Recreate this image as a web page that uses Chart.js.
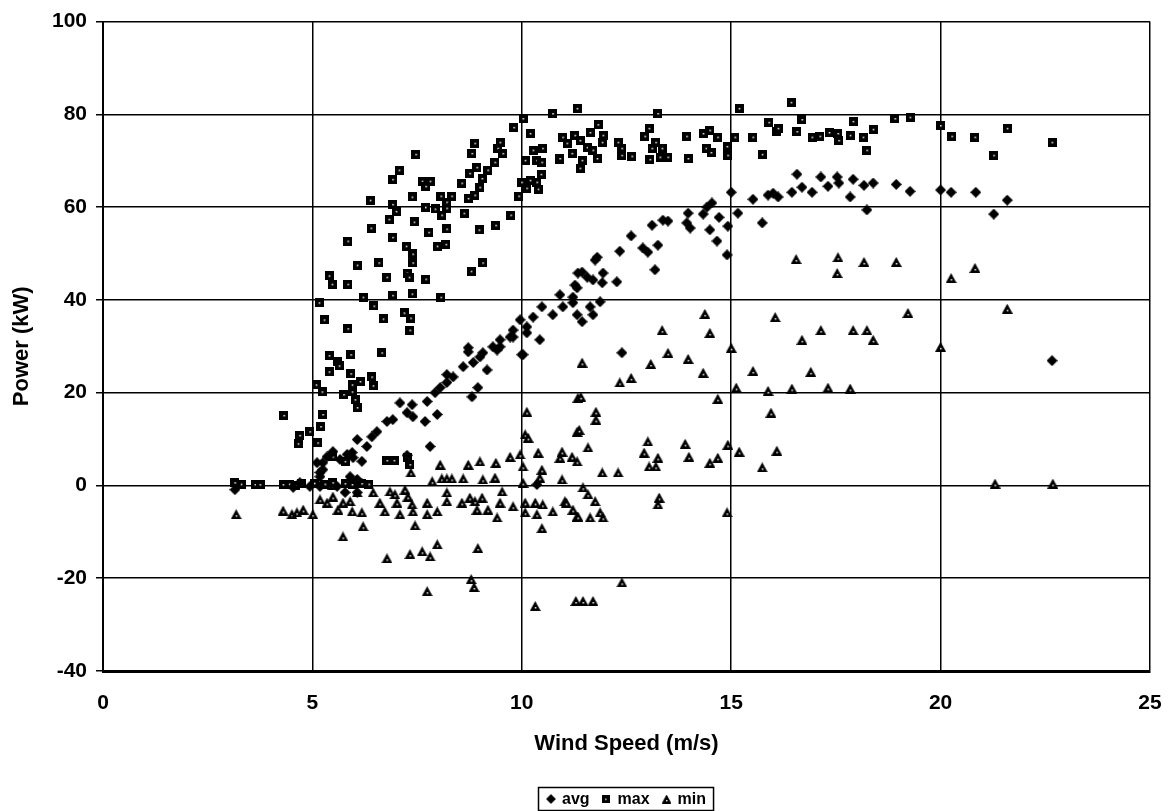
<!DOCTYPE html>
<html>
<head>
<meta charset="utf-8">
<script src="https://cdn.jsdelivr.net/npm/chart.js@4.4.0/dist/chart.umd.min.js"></script>
<style>
  html, body { margin: 0; padding: 0; background: #fff; }
  #wrap { width: 1168px; height: 811px; position: relative; }
</style>
</head>
<body>
<div id="wrap"><canvas id="c" width="1168" height="811"></canvas></div>
<script>
// Wind turbine power curve: 10-minute avg / max / min power vs wind speed
const seriesNames = ['avg', 'max', 'min'];
const xTicks = [0, 5, 10, 15, 20, 25];
const yTicks = [-40, -20, 0, 20, 40, 60, 80, 100];

const avgData = [
  [3.15,-0.9],[4.54,-0.4],[4.7,0.6],[4.94,-0.2],[5.18,-0.2],[5.59,-0.2],[5.78,-1.5],[6.07,-1.5],[5.9,1.9],[6.07,1.3],
  [5.11,4.9],[5.18,1.9],[5.25,3.4],[5.18,2.8],[5.25,4.9],[5.35,6.2],[5.49,7.3],[5.66,5.6],[5.83,6.7],[5.95,7.1],
  [5.97,6.0],[6.18,5.2],[6.07,9.9],[6.3,8.4],[6.42,10.5],[6.54,11.6],[6.78,13.8],[6.92,14.2],[7.09,17.8],[7.38,17.4],
  [7.26,15.7],[7.4,14.8],[7.69,13.8],[7.98,15.3],[7.81,8.4],[7.74,18.1],[7.93,20.0],[8.05,21.1],[8.21,22.2],[8.21,23.9],
  [8.36,23.4],[8.6,25.6],[8.72,28.8],[8.84,26.5],[9.0,27.7],[9.17,24.9],[9.07,28.6],[9.41,29.2],[9.48,29.9],[9.79,32.0],
  [10.03,28.2],[10.12,32.9],[10.43,31.4],[8.81,19.1],[8.95,21.1],[8.72,29.7],[9.31,29.9],[9.48,31.4],[9.72,32.0],[9.79,33.5],
  [9.96,35.7],[10.12,34.2],[10.27,36.3],[10.48,38.5],[10.74,36.8],[10.98,38.5],[11.22,40.6],[11.27,43.2],[11.34,45.8],[10.91,41.1],
  [11.22,39.4],[11.32,36.8],[11.44,35.3],[11.63,38.5],[11.7,36.8],[11.87,39.6],[11.32,42.6],[11.44,46.0],[11.56,44.9],[11.7,44.3],
  [11.75,48.6],[11.8,49.2],[11.92,43.7],[11.94,45.8],[12.27,43.9],[12.34,50.5],[12.61,53.8],[12.89,51.2],[13.01,50.3],[13.25,51.8],
  [13.18,46.5],[13.11,56.1],[13.37,57.2],[13.49,57.0],[13.94,56.6],[13.97,58.7],[14.02,55.5],[14.33,58.5],[14.42,60.0],[14.54,60.9],
  [14.71,57.8],[14.49,55.1],[14.66,52.7],[14.9,49.7],[14.92,55.9],[15.0,63.2],[15.16,58.7],[15.52,61.7],[15.74,56.6],[15.88,62.6],
  [16.0,63.0],[16.12,62.2],[16.45,63.2],[16.57,67.1],[16.69,64.3],[16.93,63.2],[17.14,66.5],[17.31,64.5],[17.53,66.5],[17.57,65.2],
  [17.84,62.2],[17.91,66.0],[18.17,64.7],[18.39,65.2],[18.24,59.4],[18.94,64.9],[19.27,63.4],[20.0,63.7],[20.25,63.2],[20.84,63.2],
  [21.59,61.5],[21.27,58.5],[22.66,26.9],[12.39,28.6],[10.36,0.2],[10.0,28.2],[7.26,6.5]
];

const maxData = [
  [3.15,0.6],[3.3,0.3],[3.63,0.2],[3.75,0.2],[4.3,0.2],[4.45,0.3],[4.6,0.0],[4.75,0.4],[5.05,0.5],[5.3,0.3],
  [5.49,0.6],[5.78,0.4],[5.95,0.2],[6.18,0.4],[6.35,0.3],
  [4.32,15.1],[4.66,9.0],[4.7,10.8],[4.94,11.6],[5.13,9.2],[5.2,12.7],[5.25,15.3],[5.09,21.7],[5.23,20.2],[5.4,28.0],
  [5.61,26.7],[5.64,25.8],[5.92,28.2],[5.4,24.5],[5.92,24.1],[6.14,22.4],[6.42,23.4],[6.45,21.5],[5.95,21.7],[5.75,19.6],
  [5.95,20.2],[6.02,18.5],[6.07,16.8],[6.66,28.6],[5.16,39.4],[5.28,35.7],[5.85,33.8],[6.47,38.7],[6.69,35.9],[7.19,37.2],
  [7.35,36.1],[7.33,33.5],[6.21,40.6],[6.92,41.0],[7.38,41.3],[8.07,40.6],[5.4,45.2],[5.47,43.4],[5.85,43.4],[6.07,47.5],
  [6.59,48.0],[7.26,45.8],[7.31,44.9],[6.78,44.9],[7.71,44.5],[8.79,46.2],[9.07,48.0],[7.24,51.6],[7.4,49.9],[7.4,48.0],
  [7.98,51.6],[8.19,52.0],[5.85,52.7],[6.92,53.5],[6.4,55.5],[6.83,57.4],[7.43,56.8],[7.78,54.6],[8.21,55.3],[8.98,55.1],
  [9.38,56.1],[9.74,58.3],[8.62,58.7],[7.93,59.6],[8.09,58.3],[8.21,59.8],[6.92,60.6],[7.0,59.1],[7.7,60.0],[8.07,62.4],
  [8.33,62.4],[8.21,61.1],[7.38,62.2],[6.38,61.5],[7.62,65.6],[7.81,65.6],[7.71,64.5],[6.92,66.0],[7.07,68.0],[7.47,71.4],
  [8.57,65.2],[9.0,64.3],[8.88,62.6],[8.72,61.9],[9.05,66.2],[8.76,67.3],[9.19,68.0],[8.93,68.6],[9.36,69.7],[9.48,74.0],
  [9.43,72.7],[9.55,71.6],[8.88,73.8],[8.81,71.6],[9.81,77.2],[10.2,75.9],[9.93,62.4],[10.0,65.4],[10.2,65.8],[10.12,64.1],
  [10.36,65.4],[10.39,63.9],[10.46,67.1],[10.27,72.3],[10.5,72.7],[10.08,70.1],[10.36,70.1],[10.48,69.7],[10.91,70.3],[10.98,75.1],
  [11.27,75.5],[11.08,73.8],[11.2,71.6],[10.03,79.1],[10.74,80.2],[11.32,81.3],[11.82,77.8],[11.39,74.4],[11.63,76.1],[11.94,75.5],
  [11.92,74.0],[10.91,70.5],[11.44,70.1],[11.39,68.4],[11.56,72.9],[11.7,72.3],[11.8,70.5],[12.3,74.0],[12.39,72.7],[12.39,71.2],
  [12.63,71.0],[12.94,75.3],[13.04,77.0],[13.2,74.0],[13.11,72.7],[13.06,70.3],[13.35,72.7],[13.3,70.8],[13.49,70.8],[13.25,80.2],
  [13.94,75.3],[13.97,70.5],[14.33,75.9],[14.49,76.6],[14.68,75.1],[14.4,72.7],[14.52,71.8],[14.9,73.1],[14.92,71.2],[15.09,75.1],
  [15.19,81.3],[15.52,75.1],[15.74,71.4],[15.9,78.3],[16.07,76.3],[16.12,77.0],[16.43,82.6],[16.57,76.3],[16.69,78.9],[16.93,75.1],
  [17.12,75.3],[17.34,76.1],[17.55,75.9],[17.57,74.4],[17.84,75.5],[17.91,78.5],[18.15,75.1],[18.24,72.3],[18.39,76.8],[18.91,79.1],
  [19.27,79.4],[20.0,77.6],[20.27,75.3],[20.82,75.1],[21.59,77.0],[21.27,71.2],[22.66,74.0],[6.78,5.4],[6.95,5.4],[7.28,6.0],
  [7.33,4.5],[5.49,6.2],[5.78,5.2]
];

const minData = [
  [3.18,-6.2],[4.3,-5.4],[4.51,-6.2],[4.63,-5.8],[4.78,-5.2],[5.01,-6.2],[5.18,-3.0],[5.35,-3.7],[5.49,-2.4],[5.61,-5.2],
  [5.73,-3.7],[5.9,-3.4],[5.95,-5.6],[6.07,-1.5],[6.18,-5.8],[6.45,-1.5],[6.61,-3.7],[6.73,-5.6],[6.85,-1.3],[6.97,-1.9],
  [7.02,-3.7],[7.09,-6.2],[7.21,-0.9],[7.28,-2.4],[7.38,-4.1],[7.4,-5.6],[7.74,-3.7],[7.74,-6.2],[7.98,-5.6],[8.21,-1.5],
  [8.21,-3.4],[8.57,-3.7],[8.76,-2.6],[8.88,-3.4],[9.05,-2.6],[8.93,-5.2],[9.19,-5.2],[9.48,-3.7],[9.53,-1.3],[9.41,-6.9],
  [9.79,-4.5],[10.08,-3.7],[10.32,-3.7],[10.36,-6.2],[10.08,-5.8],[10.5,-4.1],[10.74,-5.6],[11.03,-3.4],[11.22,-5.2],[11.32,-6.7],
  [11.46,-0.4],[11.58,-1.9],[11.75,-3.4],[11.06,-3.7],[11.34,-6.7],[11.63,-6.9],[11.87,-5.8],[11.94,-6.9],[13.28,-2.6],[13.25,-4.1],
  [14.9,-5.8],
  [5.49,0.2],[5.9,1.7],[6.18,0.6],[7.86,0.9],[8.09,1.5],[8.21,1.5],[8.33,1.5],[8.6,1.5],[9.07,1.3],[9.36,1.7],
  [10.03,0.6],[10.43,1.7],[10.96,1.3],[11.92,2.8],[12.3,2.8],[7.35,2.8],[8.05,4.5],[8.72,4.5],[9.0,5.2],[9.38,4.9],
  [9.72,6.2],[9.96,6.7],[10.03,4.1],[10.39,7.1],[10.96,7.3],[10.91,6.0],[11.2,6.2],[11.32,5.2],[10.48,3.4],[11.58,8.2],
  [13.01,9.5],[12.92,7.1],[13.25,6.0],[13.04,4.1],[13.2,4.1],[13.9,9.0],[13.99,6.2],[14.49,4.9],[14.68,6.0],[14.92,8.8],
  [15.19,7.3],[16.09,7.5],[15.74,3.9],[10.12,15.9],[10.08,11.0],[10.15,10.3],[11.34,18.9],[11.32,11.6],[11.41,19.1],[11.77,15.9],
  [11.77,14.2],[11.37,12.0],[14.68,18.7],[15.95,15.7],[15.12,21.1],[15.88,20.4],[16.45,20.9],[17.31,21.1],[17.84,20.9],[12.34,22.2],
  [12.61,23.2],[11.44,26.5],[13.08,26.2],[13.49,28.6],[13.97,27.3],[14.33,24.3],[14.49,32.9],[13.35,33.5],[15.0,29.7],[15.52,24.7],
  [16.69,31.4],[16.9,24.5],[18.39,31.4],[17.14,33.5],[17.91,33.5],[18.24,33.5],[14.37,37.0],[16.05,36.3],[19.22,37.2],[16.55,48.8],
  [17.55,49.2],[17.53,45.8],[18.17,48.2],[18.94,48.2],[20.25,44.7],[20.82,46.9],[21.59,38.1],[20.0,29.9],[21.3,0.4],[22.68,0.4],
  [7.45,-8.6],[7.98,-12.7],[7.62,-14.2],[7.81,-15.3],[7.33,-14.8],[6.78,-15.7],[5.73,-11.0],[6.21,-8.8],[8.95,-13.5],[8.79,-20.2],
  [8.86,-21.9],[7.74,-22.8],[10.48,-9.2],[10.32,-26.0],[11.29,-24.9],[11.46,-24.9],[11.7,-24.9],[12.39,-20.9]
];

const toPoints = arr => arr.map(p => ({ x: p[0], y: p[1] }));

// Marker glyphs: solid diamond, square with white centre, triangle with white centre
function squareMarker() {
  const c = document.createElement('canvas');
  c.width = 9; c.height = 9;
  const g = c.getContext('2d');
  g.fillStyle = '#000';
  g.fillRect(0, 0, 9, 9);
  g.fillStyle = '#fff';
  g.fillRect(4, 4, 1.5, 1.5);
  return c;
}
function diamondMarker() {
  const c = document.createElement('canvas');
  c.width = 11; c.height = 11;
  const g = c.getContext('2d');
  g.fillStyle = '#000';
  g.beginPath();
  g.moveTo(5.5, 0); g.lineTo(11, 5.5); g.lineTo(5.5, 11); g.lineTo(0, 5.5);
  g.closePath(); g.fill();
  return c;
}
function triangleMarker() {
  const c = document.createElement('canvas');
  c.width = 11; c.height = 10;
  const g = c.getContext('2d');
  g.fillStyle = '#000';
  g.beginPath();
  g.moveTo(5.5, 0); g.lineTo(11, 10); g.lineTo(0, 10);
  g.closePath(); g.fill();
  g.fillStyle = '#fff';
  g.fillRect(5, 6, 1.5, 1.5);
  return c;
}
const markers = [diamondMarker(), squareMarker(), triangleMarker()];

const FONT = "'Liberation Sans', Arial, sans-serif";

// Boxed legend centred under the plot
const boxedLegend = {
  id: 'boxedLegend',
  afterDraw(chart) {
    const ctx = chart.ctx;
    const area = chart.chartArea;
    ctx.save();
    ctx.font = 'bold 16px ' + FONT;
    ctx.textBaseline = 'middle';
    const gap = 12, symW = 11, symGap = 5, padX = 8;
    const widths = seriesNames.map(n => ctx.measureText(n).width);
    let total = padX * 2;
    widths.forEach((w, i) => { total += symW + symGap + w + (i < widths.length - 1 ? gap : 0); });
    const cx = (area.left + area.right) / 2;
    const left = Math.round(cx - total / 2);
    const top = 787, h = 24;
    ctx.fillStyle = '#fff';
    ctx.fillRect(left, top, total, h);
    ctx.strokeStyle = '#000';
    ctx.lineWidth = 1.5;
    ctx.strokeRect(left + 0.5, top + 0.5, total - 1, h - 1);
    let x = left + padX;
    const my = top + h / 2;
    seriesNames.forEach((n, i) => {
      const m = markers[i];
      const s = 0.9;
      ctx.drawImage(m, x, my - m.height * s / 2, m.width * s, m.height * s);
      x += symW + symGap;
      ctx.fillStyle = '#000';
      ctx.fillText(n, x, my + 1);
      x += widths[i] + gap;
    });
    ctx.restore();
  }
};

const ctx = document.getElementById('c').getContext('2d');
new Chart(ctx, {
  type: 'scatter',
  data: {
    datasets: [avgData, maxData, minData].map((d, i) => ({
      label: seriesNames[i],
      data: toPoints(d),
      pointStyle: markers[i],
      pointRadius: 5,
      pointHoverRadius: 5,
      backgroundColor: '#000',
      borderColor: '#000'
    }))
  },
  options: {
    responsive: false,
    animation: false,
    devicePixelRatio: 1,
    events: [],
    layout: { padding: { top: 21, right: 18, left: 0, bottom: 0 } },
    plugins: {
      legend: { display: false },
      tooltip: { enabled: false }
    },
    scales: {
      x: {
        type: 'linear',
        min: xTicks[0],
        max: xTicks[xTicks.length - 1],
        afterBuildTicks: s => { s.ticks = xTicks.map(v => ({ value: v })); },
        afterFit: s => { s.height = 140; },
        ticks: {
          color: '#000',
          font: { family: FONT, size: 21, weight: 'bold' },
          padding: 0,
          maxRotation: 0
        },
        // tick marks kept invisible; their length only spaces the labels below the axis
        grid: { color: '#000', lineWidth: 1.5, drawTicks: true, tickLength: 20, tickColor: 'rgba(0,0,0,0)' },
        border: { display: true, color: '#000', width: 3 },
        title: {
          display: true,
          text: 'Wind Speed (m/s)',
          color: '#000',
          font: { family: FONT, size: 22, weight: 'bold' },
          padding: { top: 0, bottom: 54 }
        }
      },
      y: {
        type: 'linear',
        min: yTicks[0],
        max: yTicks[yTicks.length - 1],
        afterBuildTicks: s => { s.ticks = yTicks.map(v => ({ value: v })); },
        afterFit: s => { s.width = 103; },
        ticks: {
          color: '#000',
          font: { family: FONT, size: 21, weight: 'bold' },
          padding: 9
        },
        grid: { color: '#000', lineWidth: 1.5, tickLength: 7 },
        border: { display: true, color: '#000', width: 2 },
        title: {
          display: true,
          text: 'Power (kW)',
          color: '#000',
          font: { family: FONT, size: 22, weight: 'bold' },
          padding: { top: 9, bottom: 0 }
        }
      }
    }
  },
  plugins: [boxedLegend]
});
</script>
</body>
</html>
